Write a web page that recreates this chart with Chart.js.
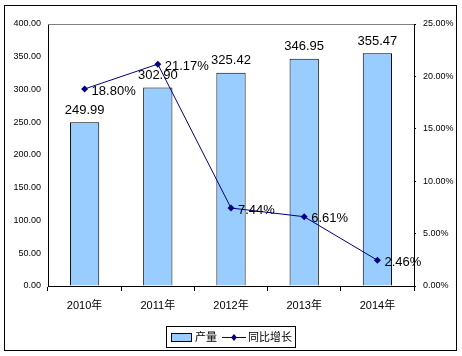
<!DOCTYPE html>
<html><head><meta charset="utf-8">
<script src="https://cdn.jsdelivr.net/npm/chart.js@4/dist/chart.umd.min.js"></script>
<style>html,body{margin:0;padding:0;background:#fff;}#wrap{width:462px;height:356px;position:relative;}</style>
</head><body><div id="wrap"><canvas id="c" width="462" height="356"></canvas></div>
<script>
const categories = ['2010年','2011年','2012年','2013年','2014年'];
const output = [249.99, 302.90, 325.42, 346.95, 355.47];
const growth = [18.80, 21.17, 7.44, 6.61, 2.46];
const seriesNames = ['产量','同比增长'];

const FONT = "'Liberation Sans', Arial, 'Noto Sans CJK SC', sans-serif";

const extras = {
  id: 'extras',
  afterDraw(chart) {
    const ctx = chart.ctx;
    const ca = chart.chartArea;
    ctx.save();
    // outer border
    ctx.strokeStyle = '#000'; ctx.lineWidth = 1;
    ctx.strokeRect(4.5, 5.5, 452, 345);
    // top plot border gray
    ctx.strokeStyle = '#808080';
    ctx.beginPath(); ctx.moveTo(ca.left, Math.round(ca.top)+0.5); ctx.lineTo(ca.right, Math.round(ca.top)+0.5); ctx.stroke();
    // data labels
    ctx.fillStyle = '#000';
    ctx.font = '13px ' + FONT;
    ctx.textBaseline = 'middle';
    const m0 = chart.getDatasetMeta(0);
    m0.data.forEach((b, i) => {
      ctx.textAlign = 'center';
      ctx.fillText(output[i].toFixed(2), b.x, b.y - 12);
    });
    const m1 = chart.getDatasetMeta(1);
    m1.data.forEach((p, i) => {
      ctx.textAlign = 'left';
      ctx.fillText(growth[i].toFixed(2) + '%', p.x + 7, p.y + 2);
    });
    // legend
    const lx = 166.5, ly = 326.5, lw = 129, lh = 21;
    ctx.strokeStyle = '#000';
    ctx.strokeRect(lx, ly, lw, lh);
    ctx.fillStyle = '#99CCFF';
    ctx.fillRect(171, 333, 20, 8);
    ctx.strokeRect(171.5, 333.5, 20, 8);
    ctx.fillStyle = '#000';
    ctx.font = '11px ' + FONT;
    ctx.textAlign = 'left';
    ctx.fillText(seriesNames[0], 195, 337.5);
    ctx.strokeStyle = '#000080';
    ctx.beginPath(); ctx.moveTo(222, 337.5); ctx.lineTo(246, 337.5); ctx.stroke();
    ctx.fillStyle = '#000080';
    ctx.beginPath(); ctx.moveTo(234, 334); ctx.lineTo(237, 337.5); ctx.lineTo(234, 341); ctx.lineTo(231, 337.5); ctx.closePath(); ctx.fill();
    ctx.fillStyle = '#000';
    ctx.fillText(seriesNames[1], 248, 337.5);
    ctx.restore();
  }
};

new Chart(document.getElementById('c'), {
  type: 'bar',
  data: {
    labels: categories,
    datasets: [
      { label: seriesNames[0], data: output, yAxisID: 'y', backgroundColor: '#99CCFF', borderColor: '#000', borderWidth: 1, barPercentage: 0.4, categoryPercentage: 1.0, order: 2 },
      { type: 'line', label: seriesNames[1], data: growth, yAxisID: 'y1', borderColor: '#000080', backgroundColor: '#000080', borderWidth: 1, pointStyle: 'rectRot', pointRadius: 3.5, pointBorderWidth: 0, tension: 0, order: 1 }
    ]
  },
  options: {
    responsive: false, animation: false, devicePixelRatio: 1,
    layout: { padding: { top: 24, left: 0, right: 0, bottom: 0 } },
    plugins: { legend: { display: false }, tooltip: { enabled: false } },
    scales: {
      x: {
        grid: { drawOnChartArea: false, drawTicks: true, tickLength: 5, color: '#000', offset: true },
        border: { color: '#000', width: 1 },
        ticks: { color: '#000', font: { family: FONT, size: 11 }, padding: 8 },
        afterFit(s) { s.height = 70; }
      },
      y: {
        position: 'left', min: 0, max: 400,
        ticks: { stepSize: 50, color: '#000', font: { family: FONT, size: 9 }, padding: 7, callback: v => v.toFixed(2) },
        grid: { display: true, drawOnChartArea: false, drawTicks: false },
        border: { color: '#000', width: 1 },
        afterFit(s) { s.width = 48; }
      },
      y1: {
        position: 'right', min: 0, max: 25,
        ticks: { stepSize: 5, color: '#000', font: { family: FONT, size: 9 }, padding: 7, callback: v => v.toFixed(2) + '%' },
        grid: { display: true, drawOnChartArea: false, drawTicks: true, tickLength: 2, color: '#000' },
        border: { color: '#000', width: 1 },
        afterFit(s) { s.width = 48; }
      }
    }
  },
  plugins: [extras]
});
</script></body></html>
